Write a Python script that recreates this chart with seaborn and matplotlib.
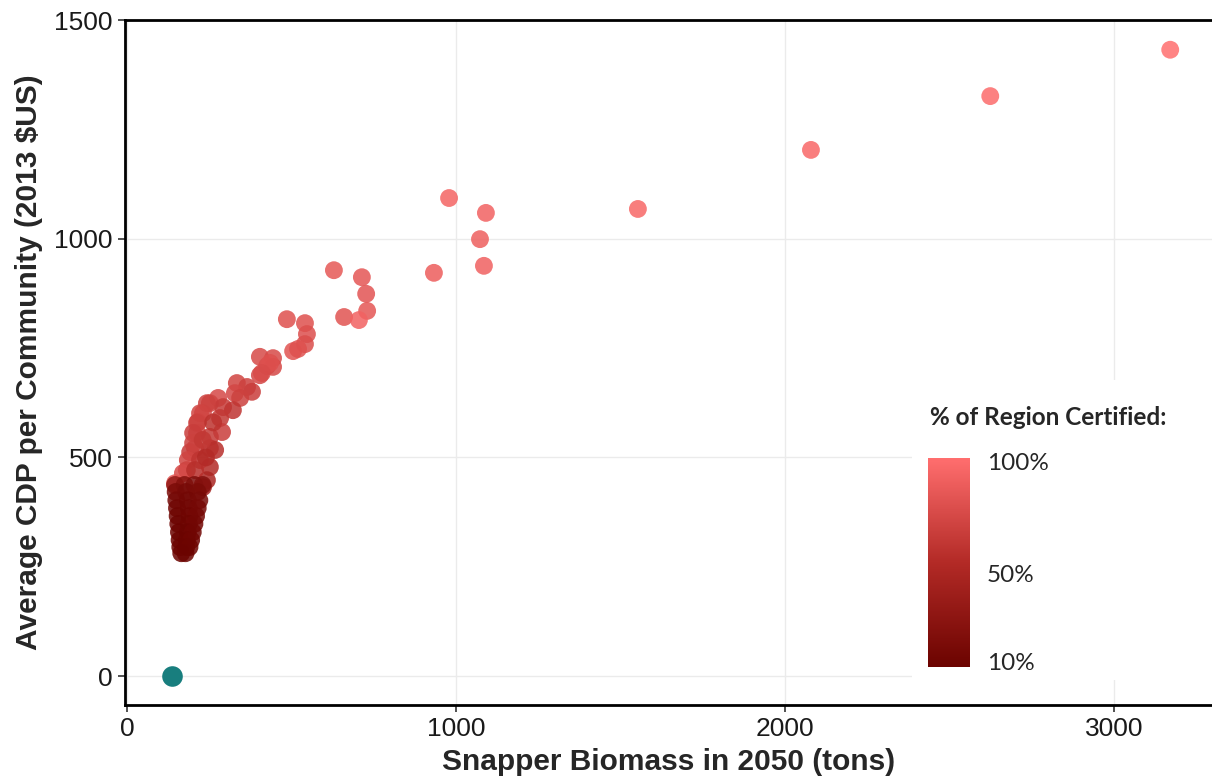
import numpy as np
import pandas as pd
import matplotlib
matplotlib.use("Agg")
import matplotlib.pyplot as plt
import seaborn as sns
from matplotlib.colors import LinearSegmentedColormap, Normalize
from matplotlib.patches import Rectangle

# ---- data ----
biomass = [
    3171, 2624, 2079, 1553, 979, 1091, 1073, 1085, 933, 629,
    714, 727, 730, 660, 705, 486, 541, 547, 541, 505,
    520, 404, 444, 426, 444, 404, 435, 410, 334, 365,
    380, 328, 344, 277, 252, 292, 322, 231, 283, 216,
    289, 213, 252, 207, 252, 243, 222, 213, 201, 192,
    182, 268, 252, 243, 231, 201, 185, 170, 146,
    222, 207, 230, 262, 240,
    146, 175, 205, 230,
    148, 180, 215,
    150, 185, 220,
    152, 188, 215,
    154, 190, 210,
    156, 188, 205,
    158, 185, 200,
    160, 182, 195,
    162, 180, 190,
    165, 178,
]
cdp = [
    1432, 1326, 1203, 1068, 1093, 1059, 999, 938, 922, 928,
    912, 874, 835, 821, 814, 816, 807, 782, 759, 743,
    748, 730, 727, 709, 707, 688, 716, 693, 670, 661,
    650, 647, 636, 636, 624, 615, 608, 601, 590, 581,
    558, 556, 547, 521, 521, 624, 601, 579, 556, 512,
    471, 517, 478, 448, 432, 533, 494, 464, 441,
    494, 471, 540, 580, 500,
    437, 437, 437, 437,
    421, 421, 421,
    402, 402, 402,
    384, 384, 384,
    366, 366, 366,
    348, 348, 348,
    329, 329, 329,
    311, 311, 311,
    295, 295, 295,
    281, 281,
]
pct_certified = [
    100, 98, 96, 95, 93, 92, 90, 91, 89, 85,
    84, 83, 84, 82, 92, 80, 80, 79, 78, 82,
    80, 76, 76, 78, 75, 74, 80, 77, 72, 70,
    68, 74, 70, 75, 72, 66, 62, 74, 64, 72,
    68, 72, 65, 66, 62, 70, 72, 70, 68, 66,
    64, 58, 55, 50, 45, 70, 72, 76, 82,
    62, 58, 64, 60, 55,
    35, 26, 22, 25,
    20, 18, 20,
    16, 15, 18,
    13, 14, 17,
    12, 13, 16,
    11, 12, 15,
    10, 11, 14,
    10, 11, 13,
    10, 11, 12,
    10, 11,
]
baseline_biomass = [137]
baseline_cdp = [0]

legend_ticks = [10, 50, 100]
legend_labels = ["10%", "50%", "100%"]

df = pd.DataFrame({"biomass": biomass, "cdp": cdp, "pct": pct_certified})
base = pd.DataFrame({"biomass": baseline_biomass, "cdp": baseline_cdp})

cmap = LinearSegmentedColormap.from_list("reds", ["#6B0300", "#B32A26", "#FF6E6E"])
norm = Normalize(10, 100)

# ---- figure ----
W, H = 1212, 781
fig = plt.figure(figsize=(W / 100, H / 100), dpi=100)
sns.set_style("white")
plt.rcParams["font.family"] = ["Liberation Sans", "DejaVu Sans"]

def fx(px):
    return px / W

def fy(py):
    return 1 - py / H

ax = fig.add_axes([fx(125), fy(705), 1 - fx(125), fy(20) - fy(705)])
ax.set_facecolor("white")

sns.scatterplot(data=df, x="biomass", y="cdp", hue="pct", palette=cmap,
                hue_norm=norm, s=165, alpha=0.85, linewidth=0, legend=False,
                ax=ax, zorder=3)
sns.scatterplot(data=base, x="biomass", y="cdp", color="#187E7E", s=220,
                linewidth=0, legend=False, ax=ax, zorder=3)

ax.set_xlim(-6, 3298)
ax.set_ylim(-66, 1500)
ax.set_xticks([0, 1000, 2000, 3000])
ax.set_yticks([0, 500, 1000, 1500])
ax.grid(True, color="#EBEBEB", linewidth=1.0, zorder=0)
ax.set_axisbelow(True)

for s in ["left", "bottom", "top"]:
    ax.spines[s].set_visible(True)
    ax.spines[s].set_color("black")
    ax.spines[s].set_linewidth(2.0)
ax.spines["right"].set_visible(False)

ax.tick_params(axis="both", which="major", direction="out", length=5,
               width=1.2, color="#333333", labelsize=19, labelcolor="#1a1a1a",
               pad=4, left=True, bottom=True)

ax.set_xlabel("Snapper Biomass in 2050 (tons)", fontsize=21.5, fontweight="bold",
              labelpad=5)
ax.set_ylabel("Average CDP per Community (2013 $US)", fontsize=21.5,
              fontweight="bold", labelpad=8)

# white legend background
fig.patches.append(Rectangle((fx(912), fy(680)), 1 - fx(912), fy(380) - fy(680),
                             transform=fig.transFigure, facecolor="white",
                             edgecolor="none", zorder=1))

cax = fig.add_axes([fx(928), fy(667), fx(42), fy(458) - fy(667)])
cax.set_zorder(2)
sm = matplotlib.cm.ScalarMappable(norm=Normalize(7.75, 101.8), cmap=cmap)
cb = fig.colorbar(sm, cax=cax, ticks=legend_ticks)
cb.outline.set_visible(False)
cb.ax.set_yticklabels(legend_labels)
cb.ax.tick_params(axis="y", direction="in", length=7, width=1.2,
                  color="#FFFFFF", left=True, right=True, labelsize=17.5, pad=12)
for t in cb.ax.get_yticklabels():
    t.set_family(["Lato", "DejaVu Sans"])

fig.text(fx(930), fy(418), "% of Region Certified:", fontsize=17.5,
         fontweight="bold", family=["Lato", "DejaVu Sans"], va="center",
         ha="left", zorder=3)

fig.savefig("out.png", dpi=100)
